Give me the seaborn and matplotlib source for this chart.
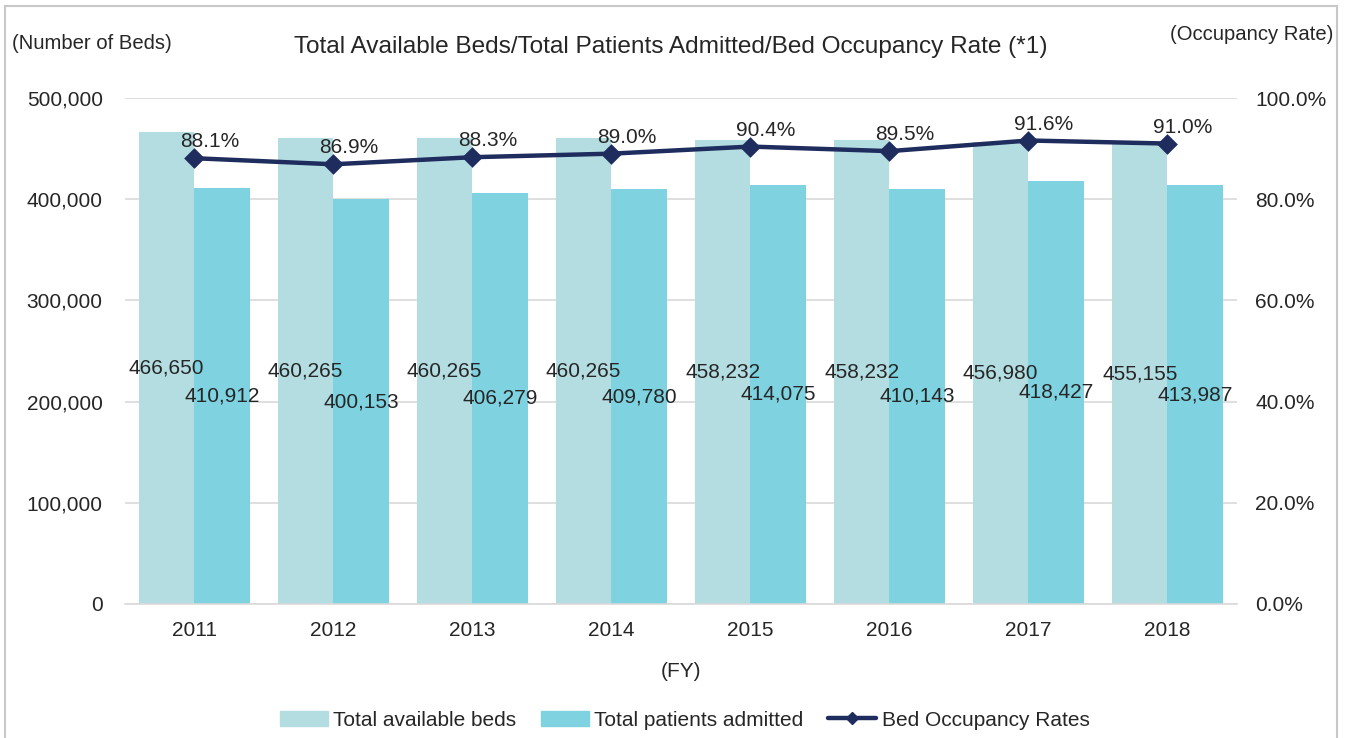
import pandas as pd
import numpy as np
import matplotlib.pyplot as plt
import seaborn as sns
from matplotlib.lines import Line2D
from matplotlib.patches import Rectangle, Patch

# Data
years = ['2011', '2012', '2013', '2014', '2015', '2016', '2017', '2018']
available_beds = [466650, 460265, 460265, 460265, 458232, 458232, 456980, 455155]
patients_admitted = [410912, 400153, 406279, 409780, 414075, 410143, 418427, 413987]
occupancy_rate = [88.1, 86.9, 88.3, 89.0, 90.4, 89.5, 91.6, 91.0]

series_names = ['Total available beds', 'Total patients admitted']
bar_colors = ['#B4DDE2', '#7FD2DF']
line_color = '#1F2D5E'

sns.set_theme(style='white')
plt.rcParams['font.family'] = ['Liberation Sans', 'DejaVu Sans']
text_color = '#262626'
fs = 15

bars_df = pd.DataFrame({
    'year': years * 2,
    'value': available_beds + patients_admitted,
    'series': [series_names[0]] * len(years) + [series_names[1]] * len(years),
})
rate_df = pd.DataFrame({'year': years, 'rate': occupancy_rate})

fig = plt.figure(figsize=(13.45, 7.38), dpi=100)
ax = fig.add_axes([0.0929, 0.1816, 0.8268, 0.6856])

sns.barplot(data=bars_df, x='year', y='value', hue='series', order=years,
            hue_order=series_names, palette=bar_colors, width=0.8,
            saturation=1, linewidth=0, ax=ax, legend=False)

ax.set_ylim(0, 500000)
ax.set_yticks(np.arange(0, 500001, 100000))
ax.yaxis.set_major_formatter(plt.FuncFormatter(lambda v, p: f'{int(v):,}'))
ax.grid(axis='y', color='#D9D9D9', linewidth=1.2)
ax.set_axisbelow(True)
for s in ax.spines.values():
    s.set_visible(False)
ax.spines['bottom'].set_visible(True)
ax.spines['bottom'].set_color('#D9D9D9')
ax.spines['bottom'].set_linewidth(1.2)
ax.tick_params(axis='both', length=0, labelsize=fs, colors=text_color)
ax.tick_params(axis='y', pad=16)
ax.tick_params(axis='x', pad=12)
ax.set_xlabel('(FY)', fontsize=fs, color=text_color, labelpad=16)
ax.set_ylabel('')

# value labels in the middle of each bar
for cont, vals in zip(ax.containers, [available_beds, patients_admitted]):
    ax.bar_label(cont, labels=[f'{v:,}' for v in vals], label_type='center',
                 fontsize=fs, color=text_color)

ax2 = ax.twinx()
sns.pointplot(data=rate_df, x='year', y='rate', order=years, color=line_color,
              markers='D', markersize=8, linewidth=3.2, ax=ax2)
ax2.set_ylim(0, 100)
ax2.set_yticks(np.arange(0, 101, 20))
ax2.yaxis.set_major_formatter(plt.FuncFormatter(lambda v, p: f'{v:.1f}%'))
ax2.set_ylabel('')
ax2.grid(False)
for s in ax2.spines.values():
    s.set_visible(False)
ax2.tick_params(axis='y', length=0, labelsize=fs, colors=text_color, pad=13)

for i, r in enumerate(occupancy_rate):
    ax2.annotate(f'{r:.1f}%', (i, r), xytext=(11, 5), textcoords='offset points',
                 ha='center', va='bottom', fontsize=fs, color=text_color)

fig.text(0.4985, 0.936, 'Total Available Beds/Total Patients Admitted/Bed Occupancy Rate (*1)',
         ha='center', va='center', fontsize=17.6, color=text_color)
fig.text(0.009, 0.941, '(Number of Beds)', ha='left', va='center', fontsize=14.6, color=text_color)
fig.text(0.991, 0.953, '(Occupancy Rate)', ha='right', va='center', fontsize=14.6, color=text_color)

handles = [Patch(color=bar_colors[0]), Patch(color=bar_colors[1]),
           Line2D([0], [0], color=line_color, lw=3.2, marker='D', markersize=6)]
fig.legend(handles, series_names + ['Bed Occupancy Rates'], loc='center',
           bbox_to_anchor=(0.509, 0.024), ncol=3, frameon=False, fontsize=fs,
           handlelength=2.3, handleheight=0.75, handletextpad=0.25, columnspacing=1.2,
           labelcolor=text_color)

fig.patches.append(Rectangle((0.004, -0.05), 0.99, 1.042, transform=fig.transFigure,
                             fill=False, edgecolor='#C8C8C8', linewidth=1.5))

fig.savefig('out.png', dpi=100, facecolor='white')
